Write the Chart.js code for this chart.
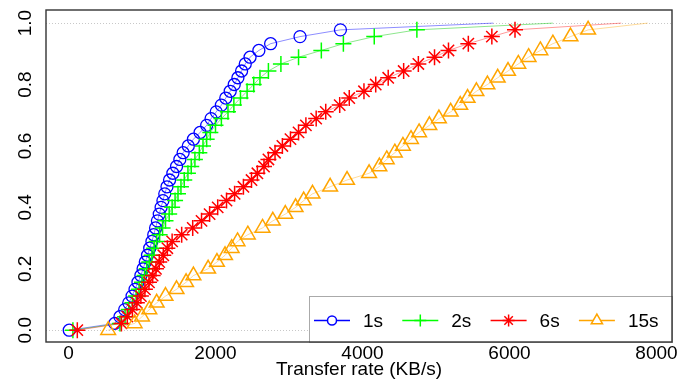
<!DOCTYPE html>
<html><head><meta charset="utf-8">
<script src="https://cdn.jsdelivr.net/npm/chart.js@4/dist/chart.umd.min.js"></script>
<style>html,body{margin:0;padding:0;background:#fff}#wrap{width:691px;height:386px;position:relative}</style>
</head><body><div id="wrap"><canvas id="c"></canvas></div>
<script>
// ---------- data ----------
const seriesNames = ['1s', '2s', '6s', '15s'];
const cdfLevels = [0, 0.022, 0.044, 0.067, 0.089, 0.111, 0.133, 0.156, 0.178, 0.2,
  0.222, 0.244, 0.267, 0.289, 0.311, 0.333, 0.356, 0.378, 0.4, 0.422,
  0.444, 0.467, 0.489, 0.511, 0.533, 0.556, 0.578, 0.6, 0.622, 0.644,
  0.667, 0.689, 0.711, 0.733, 0.756, 0.778, 0.8, 0.822, 0.844, 0.867,
  0.889, 0.911, 0.933, 0.956, 0.978];
const rate1s = [10, 630, 700, 765, 820, 865, 905, 945, 985, 1015,
  1045, 1075, 1105, 1135, 1160, 1185, 1210, 1235, 1260, 1285,
  1310, 1340, 1375, 1420, 1470, 1515, 1560, 1630, 1700, 1790,
  1880, 1940, 2010, 2080, 2140, 2200, 2255, 2305, 2355, 2405,
  2470, 2590, 2750, 3150, 3700];
const rate2s = [60, 700, 770, 820, 870, 920, 960, 1000, 1035, 1065,
  1100, 1135, 1165, 1200, 1240, 1280, 1320, 1370, 1410, 1450,
  1490, 1530, 1575, 1625, 1670, 1720, 1780, 1830, 1880, 1930,
  2000, 2080, 2170, 2250, 2340, 2430, 2520, 2605, 2720, 2890,
  3130, 3440, 3740, 4160, 4740];
const rate6s = [120, 720, 800, 870, 930, 985, 1040, 1095, 1145, 1190,
  1235, 1290, 1345, 1410, 1540, 1690, 1810, 1920, 2030, 2150,
  2260, 2380, 2490, 2570, 2660, 2720, 2810, 2910, 3020, 3130,
  3230, 3370, 3500, 3690, 3820, 4020, 4180, 4350, 4560, 4760,
  4980, 5170, 5440, 5760, 6075];
const rate15s = [540, 900, 1000, 1100, 1200, 1320, 1470, 1600, 1700, 1900,
  2020, 2130, 2220, 2300, 2440, 2640, 2780, 2950, 3090, 3200,
  3320, 3560, 3790, 4090, 4230, 4330, 4440, 4550, 4660, 4770,
  4910, 5040, 5200, 5330, 5430, 5550, 5700, 5840, 5980, 6120,
  6260, 6420, 6590, 6830, 7070];
const lineEndX = [5780, 6590, 7520, 7880]; // where each curve reaches 1.0
const xTicks = [0, 2000, 4000, 6000, 8000];
const yTicks = [0, 0.2, 0.4, 0.6, 0.8, 1.0];
const refLevels = [0, 1];
const xTitle = 'Transfer rate (KB/s)';

// ---------- styles ----------
const rates = [rate1s, rate2s, rate6s, rate15s];
const colors = ['#0000ff', '#00ff00', '#ff0000', '#ffa500'];
const lineColors = ['rgba(0,0,255,0.45)', 'rgba(0,200,0,0.45)', 'rgba(255,0,0,0.4)', 'rgba(255,165,0,0.4)'];
const styles = ['circle', 'cross', 'star', 'triangle'];
const radii = [6, 8, 8, 8.5];
const legendRadii = [4.5, 6, 6, 6.5];
const FONT = '"Liberation Sans", Arial, Helvetica, sans-serif';

const datasets = [];
rates.forEach((r, i) => {
  const pts = r.map((x, k) => ({x: x, y: cdfLevels[k]}));
  datasets.push({
    label: seriesNames[i] + ' line',
    data: pts.concat([{x: lineEndX[i], y: 1}]),
    showLine: true, borderColor: lineColors[i], borderWidth: 1,
    pointRadius: 0, pointHoverRadius: 0, fill: false, order: 20 - i
  });
  datasets.push({
    label: seriesNames[i],
    data: pts,
    showLine: false, pointStyle: styles[i], pointRadius: radii[i],
    pointBorderColor: colors[i], pointBackgroundColor: 'rgba(0,0,0,0)',
    pointBorderWidth: i === 0 ? 1.3 : 1.5, order: 10 - i
  });
});

const decor = {
  id: 'decor',
  beforeDatasetsDraw(chart) {
    const {ctx, chartArea: a, scales: {y}} = chart;
    ctx.save();
    ctx.strokeStyle = '#c8c8c8'; ctx.lineWidth = 1; ctx.setLineDash([1, 2]);
    refLevels.forEach(v => {
      const py = Math.round(y.getPixelForValue(v)) + 0.5;
      ctx.beginPath(); ctx.moveTo(a.left, py); ctx.lineTo(a.right, py); ctx.stroke();
    });
    ctx.restore();
  },
  afterDraw(chart) {
    const {ctx, chartArea: a, scales: {x, y}} = chart;
    ctx.save();
    ctx.fillStyle = '#000'; ctx.font = '19px ' + FONT;
    ctx.textAlign = 'center'; ctx.textBaseline = 'middle';
    // y tick labels (rotated, R style)
    yTicks.forEach(v => {
      ctx.save();
      ctx.translate(26, y.getPixelForValue(v));
      ctx.rotate(-Math.PI / 2);
      ctx.fillText(v.toFixed(1), 0, 0);
      ctx.restore();
    });
    // x tick labels and title
    xTicks.forEach(v => ctx.fillText(String(v), x.getPixelForValue(v), a.bottom + 12));
    ctx.fillText(xTitle, (a.left + a.right) / 2, a.bottom + 28);
    // legend
    const lw = 363, lh = 46;
    const lx = a.right - lw, ly = a.bottom - lh;
    ctx.fillStyle = '#fff'; ctx.fillRect(lx, ly, lw, lh);
    ctx.strokeStyle = '#aaa'; ctx.lineWidth = 1;
    ctx.strokeRect(lx + 0.5, ly + 0.5, lw, lh);
    const cy = ly + 24.5;
    seriesNames.forEach((n, i) => {
      const x0 = lx + 5 + 88.3 * i;
      ctx.strokeStyle = colors[i]; ctx.lineWidth = 1.3;
      ctx.beginPath(); ctx.moveTo(x0, cy); ctx.lineTo(x0 + 36, cy); ctx.stroke();
      ctx.lineWidth = 1.5;
      ctx.fillStyle = '#fff';
      Chart.helpers.drawPoint(ctx, {pointStyle: styles[i], radius: legendRadii[i], borderWidth: 1.5, rotation: 0}, x0 + 18, cy);
      ctx.fillStyle = '#000'; ctx.font = '19px ' + FONT;
      ctx.textAlign = 'left'; ctx.textBaseline = 'middle';
      ctx.fillText(n, x0 + 49, cy + 1);
    });
    // plot box
    ctx.strokeStyle = '#333'; ctx.lineWidth = 1.4;
    ctx.strokeRect(a.left, a.top, a.right - a.left, a.bottom - a.top);
    ctx.restore();
  }
};

new Chart(document.getElementById('c'), {
  type: 'scatter',
  data: {datasets},
  options: {
    responsive: true, maintainAspectRatio: false, animation: false,
    layout: {padding: {left: 46, right: 19, top: 6, bottom: 44}},
    plugins: {legend: {display: false}, tooltip: {enabled: false}},
    scales: {
      x: {type: 'linear', min: -306, max: 8211, display: false},
      y: {type: 'linear', min: -0.0385, max: 1.0427, display: false}
    }
  },
  plugins: [decor]
});
</script></body></html>
